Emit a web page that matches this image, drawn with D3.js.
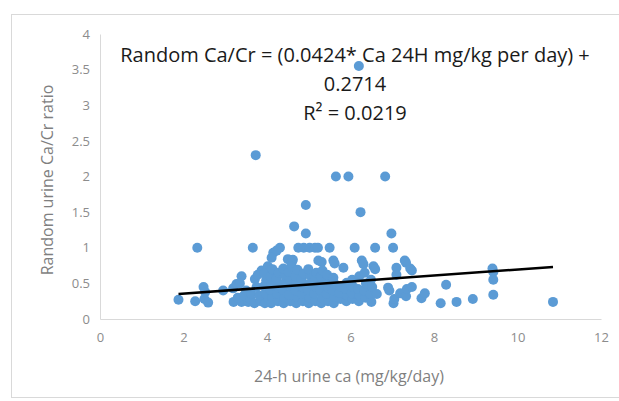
<!DOCTYPE html>
<html>
<head>
<meta charset="utf-8">
<script src="https://cdn.jsdelivr.net/npm/d3@7"></script>
<style>
  body { margin: 0; background: #fff; }
  text { font-family: "Open Sans", "Liberation Sans", sans-serif; }
</style>
</head>
<body>
<div id="scatter"></div>
<script>
// data: [24-h urine ca, random Ca/Cr]
const highPoints = [
  [6.2, 3.55], [3.73, 2.3], [5.65, 2.0], [5.95, 2.0], [6.83, 2.0],
  [4.93, 1.6], [6.24, 1.5], [4.65, 1.3], [4.93, 1.2], [6.98, 1.2]
];
const midPoints = [
  [2.33, 1.0], [3.66, 1.0], [4.31, 1.0], [4.75, 1.0], [4.88, 1.0], [5.02, 1.0],
  [5.15, 1.0], [5.22, 1.0], [5.5, 1.0], [6.1, 1.0], [6.59, 1.0], [7.02, 1.0],
  [4.15, 0.93], [4.23, 0.96], [4.5, 0.84], [4.59, 0.79], [4.62, 0.83], [5.23, 0.82],
  [5.31, 0.8], [5.59, 0.82], [5.62, 0.78], [6.27, 0.82], [6.31, 0.77], [7.3, 0.82],
  [7.33, 0.79], [4.02, 0.74], [4.11, 0.86], [3.87, 0.68], [5.83, 0.72], [6.55, 0.74],
  [6.59, 0.7], [7.1, 0.72], [7.47, 0.68], [7.43, 0.71], [9.4, 0.71], [9.42, 0.66]
];
const lowLeft = [
  [1.88, 0.27], [2.28, 0.25], [2.5, 0.28], [2.59, 0.23], [2.48, 0.45], [2.52, 0.38],
  [2.95, 0.4], [3.19, 0.43], [3.27, 0.49], [3.39, 0.6], [3.35, 0.5], [3.2, 0.24],
  [3.39, 0.24], [3.55, 0.24], [3.3, 0.3], [3.45, 0.33], [3.6, 0.28], [3.71, 0.56],
  [3.78, 0.62], [3.7, 0.22], [3.85, 0.25], [3.95, 0.22], [4.03, 0.3],
  [3.5, 0.4], [3.62, 0.36], [3.75, 0.45], [3.82, 0.33]
];
const cluster = [
  [3.96, 0.36], [3.93, 0.46], [3.98, 0.54], [3.94, 0.64],
  [4.1, 0.22], [4.12, 0.31], [4.08, 0.41], [4.11, 0.49], [4.09, 0.6], [4.13, 0.7],
  [4.26, 0.25], [4.24, 0.36], [4.27, 0.44], [4.23, 0.56], [4.28, 0.65],
  [4.4, 0.22], [4.42, 0.3], [4.38, 0.41], [4.41, 0.5], [4.43, 0.61], [4.39, 0.71],
  [4.56, 0.25], [4.53, 0.34], [4.57, 0.46], [4.55, 0.55], [4.52, 0.66], [4.58, 0.74],
  [4.7, 0.22], [4.72, 0.31], [4.68, 0.4], [4.71, 0.51], [4.69, 0.6], [4.73, 0.69],
  [4.86, 0.25], [4.84, 0.35], [4.87, 0.44], [4.83, 0.56], [4.88, 0.64],
  [5.0, 0.22], [5.02, 0.3], [4.98, 0.41], [5.01, 0.49], [5.03, 0.61], [4.99, 0.7],
  [5.16, 0.25], [5.13, 0.36], [5.17, 0.45], [5.14, 0.54], [5.18, 0.65],
  [5.3, 0.22], [5.32, 0.3], [5.28, 0.41], [5.31, 0.5], [5.29, 0.6], [5.33, 0.68],
  [5.46, 0.25], [5.43, 0.35], [5.47, 0.44], [5.45, 0.55], [5.44, 0.62],
  [5.6, 0.22], [5.62, 0.31], [5.58, 0.4], [5.61, 0.5], [5.59, 0.58],
  [5.76, 0.28], [5.74, 0.37], [5.77, 0.45],
  [5.9, 0.25], [5.92, 0.33], [5.88, 0.42], [5.91, 0.51],
  [6.05, 0.28], [6.03, 0.36], [6.07, 0.45], [6.04, 0.55],
  [6.2, 0.25], [6.22, 0.33], [6.18, 0.42], [6.21, 0.6],
  [6.36, 0.3], [6.33, 0.4], [6.37, 0.5], [6.34, 0.65],
  [6.5, 0.24], [6.48, 0.35], [6.52, 0.45], [6.49, 0.55]
];
const lowRight = [
  [6.63, 0.35], [6.9, 0.44], [6.93, 0.4], [7.03, 0.22], [7.05, 0.28], [7.19, 0.36],
  [7.33, 0.32], [7.35, 0.42], [7.47, 0.45], [7.1, 0.62], [7.7, 0.29], [7.78, 0.36],
  [8.16, 0.22], [8.29, 0.48], [8.54, 0.24], [8.93, 0.28], [9.42, 0.55], [9.42, 0.34],
  [10.85, 0.24]
];
const xTicks = [0, 2, 4, 6, 8, 10, 12];
const yTicks = [0, 0.5, 1, 1.5, 2, 2.5, 3, 3.5, 4];
const slope = 0.0424;
const intercept = 0.2714;
const equationLines = ["Random Ca/Cr = (0.0424* Ca 24H mg/kg per day) +", "0.2714", "R\u00b2 = 0.0219"];

const points = highPoints.concat(midPoints, lowLeft, cluster, lowRight);

const W = 619, H = 401;
const margin = { top: 34, right: 18, bottom: 82, left: 100 };
const width = W - margin.left - margin.right;
const height = H - margin.top - margin.bottom;

const root = d3.select("#scatter").append("svg")
  .attr("width", W)
  .attr("height", H);

// outer chart frame
root.append("rect")
  .attr("x", 11.5).attr("y", 14.5)
  .attr("width", 620).attr("height", 383)
  .attr("fill", "none")
  .attr("stroke", "#d9d9d9");

const svg = root.append("g")
  .attr("transform", `translate(${margin.left},${margin.top})`);

const x = d3.scaleLinear().domain([0, 12]).range([0, width]);
const y = d3.scaleLinear().domain([0, 4]).range([height, 0]);

// axes
const xAxis = svg.append("g")
  .attr("transform", `translate(0,${height})`)
  .call(d3.axisBottom(x).tickValues(xTicks).tickSize(0).tickPadding(14));
const yAxis = svg.append("g")
  .call(d3.axisLeft(y).tickValues(yTicks).tickSize(0).tickPadding(10)
    .tickFormat(d => d3.format("")(d)));

[xAxis, yAxis].forEach(a => {
  a.select(".domain").attr("stroke", "#d9d9d9");
  a.selectAll("text")
    .attr("fill", "#8c8c8c")
    .style("font-size", "13px");
});

// points
svg.append("g")
  .selectAll("circle")
  .data(points)
  .enter()
  .append("circle")
    .attr("cx", d => x(d[0]))
    .attr("cy", d => y(d[1]))
    .attr("r", 5)
    .attr("fill", "#5b9bd5");

// linear trendline over the data range
const xr = d3.extent(points, d => d[0]);
svg.append("path")
  .datum(xr.map(v => [v, slope * v + intercept]))
  .attr("d", d3.line().x(d => x(d[0])).y(d => y(d[1])))
  .attr("stroke", "#000")
  .attr("stroke-width", 2.5)
  .attr("fill", "none");

// equation label
svg.append("g")
  .selectAll("text")
  .data(equationLines)
  .enter()
  .append("text")
    .attr("x", 255)
    .attr("y", (d, i) => 28 + i * 29)
    .attr("text-anchor", "middle")
    .attr("fill", "#1a1a1a")
    .style("font-size", "20px")
    .text(d => d);

// axis titles
root.append("text")
  .attr("x", 349).attr("y", 382)
  .attr("text-anchor", "middle")
  .attr("fill", "#7f7f7f")
  .style("font-size", "16px")
  .text("24-h urine ca (mg/kg/day)");

root.append("text")
  .attr("transform", "translate(53,180) rotate(-90)")
  .attr("text-anchor", "middle")
  .attr("fill", "#7f7f7f")
  .style("font-size", "16px")
  .text("Random urine Ca/Cr ratio");
</script>
</body>
</html>
